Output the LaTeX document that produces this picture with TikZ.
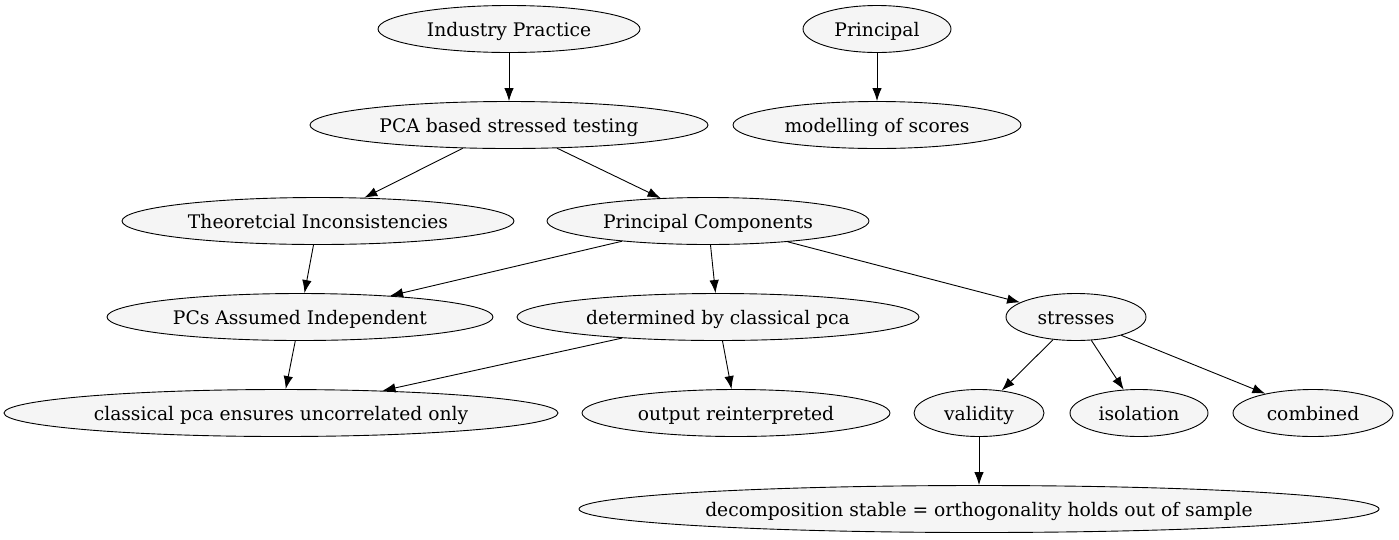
\documentclass[tikz,border=0pt]{standalone}
\usepackage{fontspec}
\setmainfont{DejaVu Serif}
\usetikzlibrary{shapes.geometric,arrows.meta}
\begin{document}
\begin{tikzpicture}[x=1pt,y=-1pt,
  gnode/.style={ellipse,draw=black,fill=black!4,line width=0.9pt,inner sep=0pt,minimum height=47pt,text height=14pt,text depth=0pt,font=\fontsize{18.7}{22}\selectfont},
  garrow/.style={-{Latex[length=13pt,width=9.5pt]},line width=0.9pt}]
\useasboundingbox (0,0) rectangle (1399,539);
\node[gnode,minimum width=262] (ip) at (509,29) {Industry Practice};
\node[gnode,minimum width=148] (pr) at (877,29) {Principal};
\node[gnode,minimum width=398] (pca) at (509,125) {PCA based stressed testing};
\node[gnode,minimum width=288] (mod) at (877,125) {modelling of scores};
\node[gnode,minimum width=392] (ti) at (318,221) {Theoretcial Inconsistencies};
\node[gnode,minimum width=322] (pc) at (708,221) {Principal Components};
\node[gnode,minimum width=386] (pai) at (300,317) {PCs Assumed Independent};
\node[gnode,minimum width=402] (det) at (718,317) {determined by classical pca};
\node[gnode,minimum width=140] (st) at (1076,317) {stresses};
\node[gnode,minimum width=554] (cpe) at (281,413) {classical pca ensures uncorrelated only};
\node[gnode,minimum width=308] (out) at (736,413) {output reinterpreted};
\node[gnode,minimum width=130] (val) at (979,413) {validity};
\node[gnode,minimum width=138] (iso) at (1139,413) {isolation};
\node[gnode,minimum width=160] (com) at (1313,413) {combined};
\node[gnode,minimum width=800] (dec) at (979,509) {decomposition stable = orthogonality holds out of sample};
\draw[garrow] (ip) -- (pca);
\draw[garrow] (pr) -- (mod);
\draw[garrow] (pca) -- (ti);
\draw[garrow] (pca) -- (pc);
\draw[garrow] (ti) -- (pai);
\draw[garrow] (pc) -- (pai);
\draw[garrow] (pc) -- (det);
\draw[garrow] (pc) -- (st);
\draw[garrow] (pai) -- (cpe);
\draw[garrow] (det) -- (cpe);
\draw[garrow] (det) -- (out);
\draw[garrow] (st) -- (val);
\draw[garrow] (st) -- (iso);
\draw[garrow] (st) -- (com);
\draw[garrow] (val) -- (dec);
\end{tikzpicture}
\end{document}
